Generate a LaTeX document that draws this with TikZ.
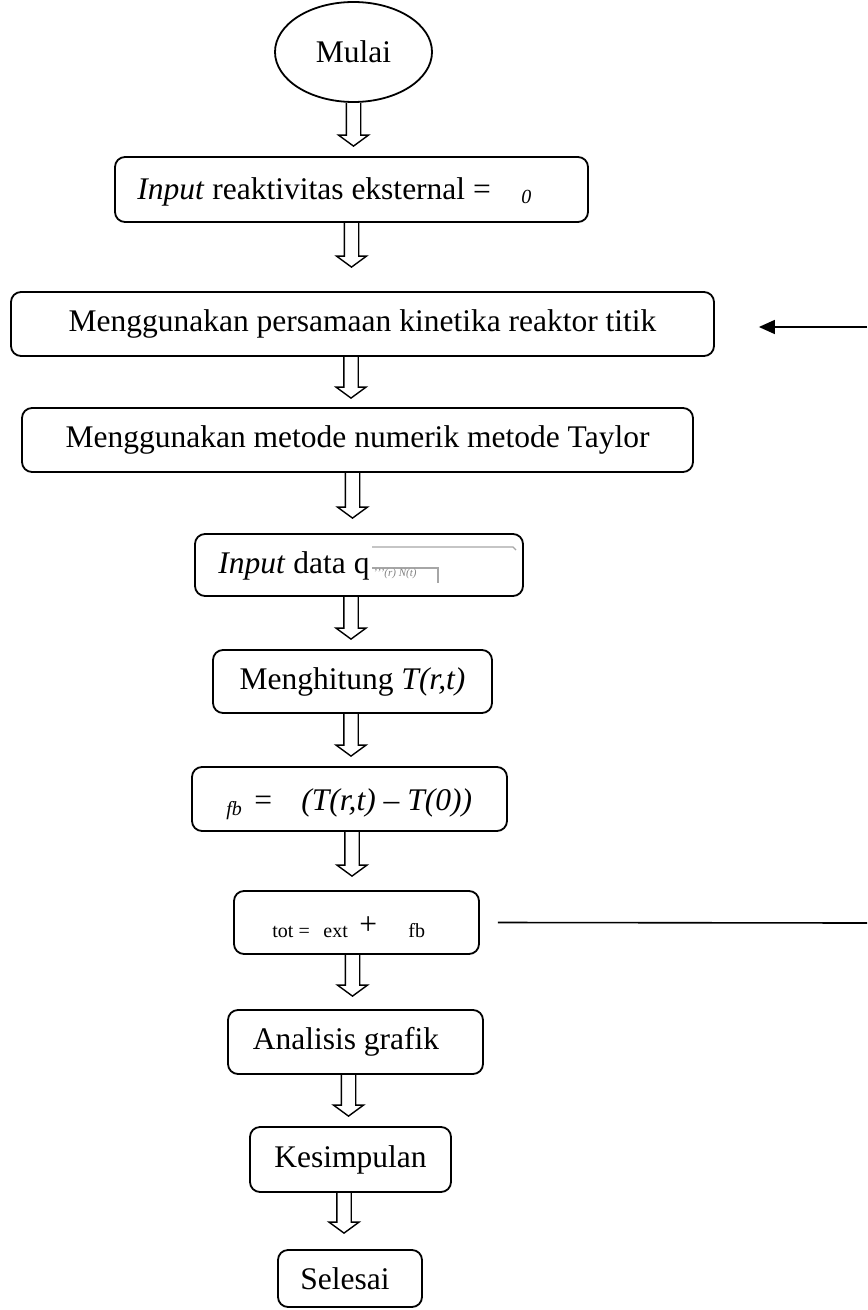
\documentclass[tikz,border=0pt]{standalone}
\usepackage{fontspec}
\setmainfont{Liberation Serif}
\usetikzlibrary{shapes.geometric,calc,arrows.meta}
\newcommand\blkarrow[2]{\draw[blkline] let \p1=(#1), \p2=(#2) in
  (\x1-3.6pt,\y1) -- (\x1-3.6pt,\y2+5.5pt) -- (\x1-7.5pt,\y2+5.5pt) -- (\x1,\y2)
  -- (\x1+7.5pt,\y2+5.5pt) -- (\x1+3.6pt,\y2+5.5pt) -- (\x1+3.6pt,\y1);}
\begin{document}
\begin{tikzpicture}[x=0.5pt,y=-0.5pt,
  box/.style={draw,rounded corners=5pt,line width=0.9pt,inner sep=0pt,
    font=\fontsize{15.75}{18}\selectfont},
  txt/.style={inner sep=0pt,font=\fontsize{15.75}{18}\selectfont},
  subtxt/.style={inner sep=0pt,font=\fontsize{10}{12}\selectfont},
  blkline/.style={draw,line width=0.7pt,line join=miter},
  fbline/.style={line width=0.8pt},
  broken/.style={draw=gray!70,line width=0.6pt}]
\useasboundingbox (0,0) rectangle (867,1310);

% nodes
\node[draw,ellipse,line width=0.9pt,minimum width=78.5pt,minimum height=50pt,inner sep=0pt,
  font=\fontsize{15.75}{18}\selectfont] (b1) at (353.5,52) {Mulai};

\node[box,minimum width=236.5pt,minimum height=32.5pt] (b2) at (351.5,189.5) {};
\node[txt,anchor=base west] (t2) at (137,200) {\textit{Input} reaktivitas eksternal =};
\node[subtxt,anchor=base west] (t2s) at (521,204) {\textit{0}};

\node[box,minimum width=351.5pt,minimum height=32pt] (b3) at (362.5,324)
  {Menggunakan persamaan kinetika reaktor titik};

\node[box,minimum width=335.5pt,minimum height=32pt] (b4) at (357.5,440)
  {Menggunakan metode numerik metode Taylor};

\node[box,minimum width=164pt,minimum height=31pt] (b5) at (359,565) {};
\node[txt,anchor=base west] (t5) at (218,573) {\textit{Input} data q};
\draw[broken] (372,547) -- (513,547) -- (516,550);
\draw[broken] (372,568) -- (438,568) -- (438,583);
\node[inner sep=0pt,anchor=base west,text=gray,font=\fontsize{5.5}{6}\selectfont] (t5s)
  at (373,576) {\textit{'\kern0pt'\kern0pt'(r) N(t)}};

\node[box,minimum width=139.5pt,minimum height=31.5pt] (b6) at (352.5,681.5)
  {Menghitung \textit{T(r,t)}};

\node[box,minimum width=157.5pt,minimum height=32pt] (b7) at (349.5,799) {};
\node[subtxt,anchor=base west] (t7a) at (226,815) {\textit{fb}};
\node[txt,anchor=base west] (t7b) at (254,810) {=};
\node[txt,anchor=base west] (t7c) at (301,810) {\textit{(T(r,t) – T(0))}};

\node[box,minimum width=122.5pt,minimum height=31.5pt] (b8) at (356.5,922.5) {};
\node[subtxt,anchor=base west] (t8a) at (272,937) {tot =};
\node[subtxt,anchor=base west] (t8b) at (323,937) {ext};
\node[txt,anchor=base west] (t8c) at (359,934) {+};
\node[subtxt,anchor=base west] (t8d) at (408,937) {fb};

\node[box,minimum width=127.5pt,minimum height=32pt] (b9) at (355.5,1042) {};
\node[txt] (t9) at (346,1042) {Analisis grafik};

\node[box,minimum width=100.5pt,minimum height=32.5pt] (b10) at (350.5,1159.5) {Kesimpulan};

\node[box,minimum width=72pt,minimum height=28.5pt] (b11) at (350,1278.5) {};
\node[txt] (t11) at (345,1278.5) {Selesai};

% block arrows
\blkarrow{[xshift=0pt]b1.south}{[xshift=0.75pt,yshift=5pt]b2.north}
\blkarrow{[xshift=0pt]b2.south}{[xshift=-5.75pt,yshift=12pt]b3.north}
\blkarrow{[xshift=-5.75pt]b3.south}{[xshift=-3.25pt,yshift=4.5pt]b4.north}
\blkarrow{[xshift=-2.5pt]b4.south}{[xshift=-3.25pt,yshift=7.5pt]b5.north}
\blkarrow{[xshift=-4pt]b5.south}{[xshift=-0.75pt,yshift=5pt]b6.north}
\blkarrow{[xshift=-0.75pt]b6.south}{[xshift=0.75pt,yshift=5pt]b7.north}
\blkarrow{[xshift=1.25pt]b7.south}{[xshift=-2.25pt,yshift=7pt]b8.north}
\blkarrow{[xshift=-2pt]b8.south}{[xshift=-1.5pt,yshift=6.5pt]b9.north}
\blkarrow{[xshift=-3.5pt]b9.south}{[xshift=-1pt,yshift=5pt]b10.north}
\blkarrow{[xshift=-3.25pt]b10.south}{[xshift=-3pt,yshift=8pt]b11.north}

% feedback lines
\coordinate (fbin) at (867,327);
\coordinate (fbout) at (867,923);
\draw[fbline,-{Triangle[length=8pt,width=7pt]}] (fbin) -- ([xshift=22pt,yshift=-1.5pt]b3.east);
\draw[fbline] ([xshift=9pt]b8.east) -- (fbout);
\end{tikzpicture}
\end{document}
